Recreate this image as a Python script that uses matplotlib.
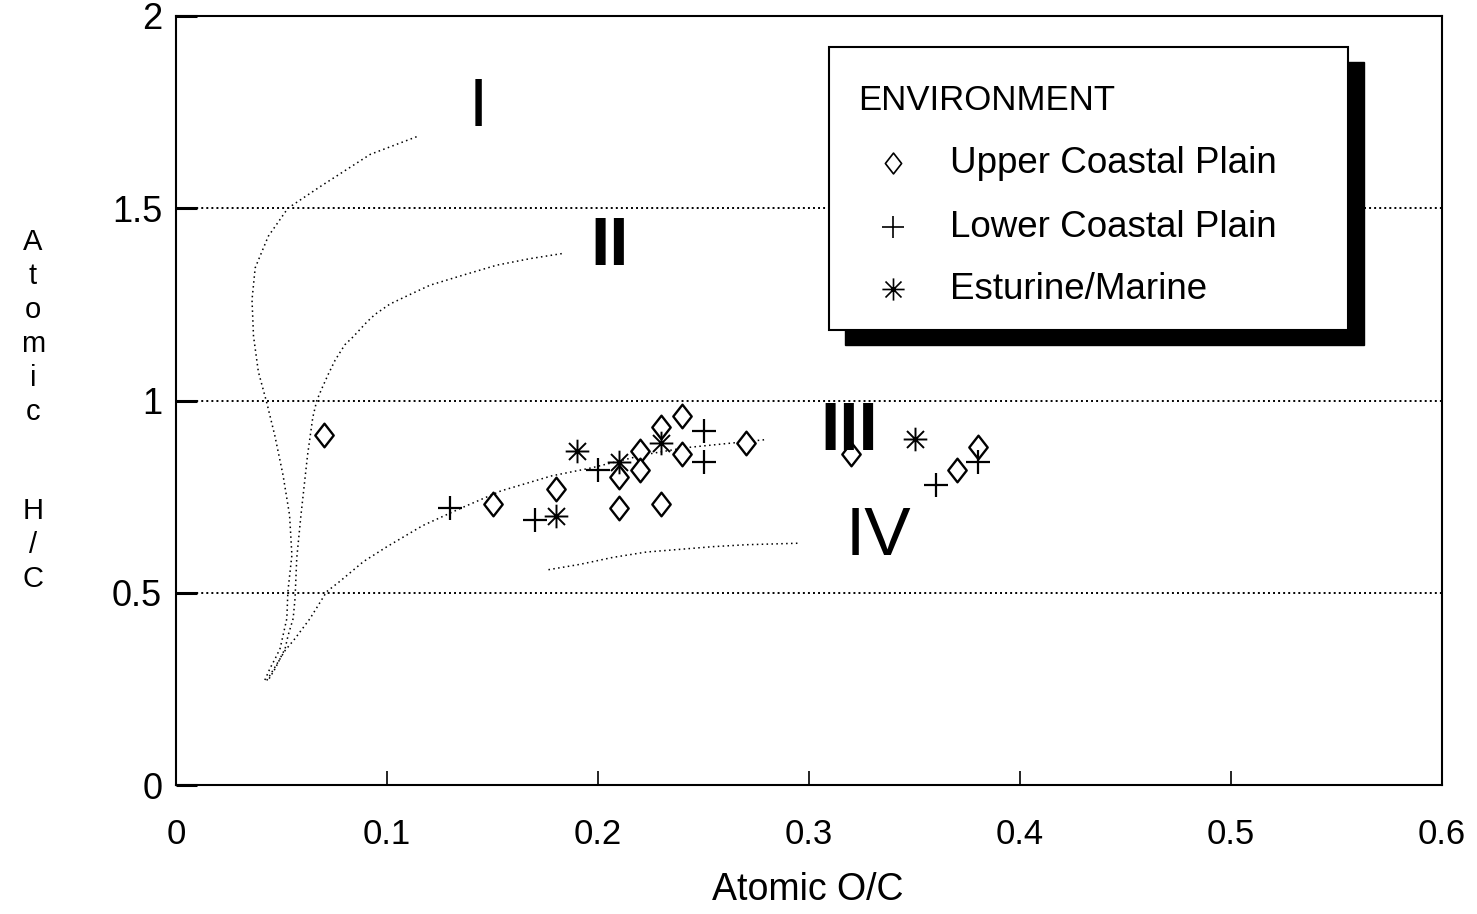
import matplotlib
matplotlib.use("Agg")
import matplotlib.pyplot as plt
from matplotlib.path import Path
from matplotlib.patches import Rectangle

plt.rcParams['font.family'] = ['Liberation Sans', 'DejaVu Sans']

# ---------------- data ----------------
upper_x = [0.07, 0.15, 0.18, 0.21, 0.21, 0.22, 0.22, 0.23, 0.23, 0.24, 0.24, 0.27, 0.32, 0.37, 0.38]
upper_y = [0.91, 0.73, 0.77, 0.80, 0.72, 0.87, 0.82, 0.93, 0.73, 0.96, 0.86, 0.89, 0.86, 0.82, 0.88]

lower_x = [0.13, 0.17, 0.20, 0.25, 0.25, 0.36, 0.38]
lower_y = [0.72, 0.69, 0.82, 0.92, 0.84, 0.78, 0.84]

estu_x = [0.18, 0.19, 0.21, 0.23, 0.35]
estu_y = [0.70, 0.87, 0.84, 0.89, 0.90]

type1_x = [0.114, 0.092, 0.0685, 0.053, 0.0437, 0.0375, 0.036, 0.0367, 0.039, 0.043, 0.0468,
           0.0507, 0.0538, 0.0549, 0.053, 0.0525, 0.0507, 0.0493, 0.047, 0.0445, 0.042]
type1_y = [1.686, 1.64, 1.557, 1.50, 1.427, 1.345, 1.262, 1.168, 1.075, 0.994, 0.909,
           0.806, 0.702, 0.598, 0.503, 0.433, 0.389, 0.355, 0.329, 0.303, 0.272]

type2_x = [0.1828, 0.1678, 0.152, 0.136, 0.1204, 0.111, 0.1014, 0.0943, 0.0904, 0.084, 0.080,
           0.0754, 0.0722, 0.069, 0.0667, 0.0648, 0.0623, 0.0592, 0.0572, 0.0564, 0.0555,
           0.0531, 0.0517, 0.0493, 0.047, 0.0436]
type2_y = [1.382, 1.369, 1.352, 1.326, 1.30, 1.276, 1.251, 1.224, 1.204, 1.166, 1.145,
           1.105, 1.069, 1.03, 1.0, 0.956, 0.857, 0.702, 0.59, 0.486, 0.433,
           0.389, 0.355, 0.329, 0.303, 0.272]

type3_x = [0.043, 0.0517, 0.0564, 0.0635, 0.0714, 0.0777, 0.0888, 0.100, 0.117, 0.135,
           0.154, 0.178, 0.197, 0.222, 0.241, 0.279]
type3_y = [0.272, 0.35, 0.381, 0.433, 0.503, 0.53, 0.581, 0.62, 0.675, 0.72,
           0.765, 0.804, 0.825, 0.859, 0.877, 0.898]

type4_x = [0.1765, 0.1915, 0.207, 0.223, 0.2389, 0.2546, 0.2705, 0.2957]
type4_y = [0.56, 0.574, 0.592, 0.606, 0.613, 0.62, 0.625, 0.629]

xticks = [0, 0.1, 0.2, 0.3, 0.4, 0.5, 0.6]
xtick_labels = ["0", "0.1", "0.2", "0.3", "0.4", "0.5", "0.6"]
yticks = [0, 0.5, 1, 1.5, 2]
ytick_labels = ["0", "0.5", "1", "1.5", "2"]
grid_levels = [0.5, 1.0, 1.5]

legend_title = "ENVIRONMENT"
legend_labels = ["Upper Coastal Plain", "Lower Coastal Plain", "Esturine/Marine"]

# ---------------- markers ----------------
diamond = Path([(0, 1), (0.78, 0), (0, -1), (-0.78, 0), (0, 1)],
               [Path.MOVETO, Path.LINETO, Path.LINETO, Path.LINETO, Path.CLOSEPOLY])
d = 0.72
ast_verts = [(0, -1), (0, 1), (-1, 0), (1, 0), (-d, -d), (d, d), (-d, d), (d, -d)]
ast_codes = [Path.MOVETO, Path.LINETO] * 4
asterisk = Path(ast_verts, ast_codes)

# ---------------- figure ----------------
fig = plt.figure(figsize=(14.77, 9.14), dpi=100)
ax = fig.add_axes([0.1192, 0.1411, 0.8571, 0.8414])
ax.set_xlim(0, 0.6)
ax.set_ylim(0, 2)

for lv in grid_levels:
    ax.axhline(lv, color='black', lw=1.4, ls=(0, (1, 1.6)), zorder=1)

curve_style = dict(color='black', lw=1.1, ls=(0, (1, 2.2)), zorder=2)
ax.plot(type1_x, type1_y, **curve_style)
ax.plot(type2_x, type2_y, **curve_style)
ax.plot(type3_x, type3_y, **curve_style)
ax.plot(type4_x, type4_y, **curve_style)

ax.plot(upper_x, upper_y, ls='none', marker=diamond, ms=17, mfc='white',
        mec='black', mew=1.7, zorder=3)
ax.plot(lower_x, lower_y, ls='none', marker='+', ms=17, mec='black', mew=1.6, zorder=4)
ax.plot(estu_x, estu_y, ls='none', marker=asterisk, ms=17, mec='black', mew=1.4,
        mfc='none', zorder=4)

# roman numeral labels
ax.text(0.143, 1.713, "I", fontsize=50, ha='center', va='baseline')
ax.text(0.2057, 1.352, "II", fontsize=50, ha='center', va='baseline', fontweight='bold')
ax.text(0.319, 0.872, "III", fontsize=50, ha='center', va='baseline', fontweight='bold')
ax.text(0.3327, 0.598, "IV", fontsize=50, ha='center', va='baseline')

# axes styling
ax.set_xticks(xticks)
ax.set_xticklabels(xtick_labels)
ax.set_yticks(yticks)
ax.set_yticklabels(ytick_labels)
ax.tick_params(axis='x', direction='in', length=10, width=1.2, pad=24, labelsize=25)
ax.tick_params(axis='y', direction='in', length=15, width=2.2, pad=10, labelsize=26)
for sp in ax.spines.values():
    sp.set_linewidth(1.5)

# x label
fig.text(0.547, 0.0263, "Atomic O/C", fontsize=27, ha='center', va='center')

# y label: stacked characters
ychars = ["A", "t", "o", "m", "i", "c", "H", "/", "C"]
ypix = [242, 276, 310, 344, 378, 412, 511, 545, 579]
for ch, py in zip(ychars, ypix):
    fig.text(33 / 1477, 1 - py / 914, ch, fontsize=21, ha='center', va='center')

# ---------------- legend box ----------------
tr = ax.transAxes
bx0, bx1, by0, by1 = 0.5158, 0.9257, 0.5917, 0.9597
sx, sy = 0.0125, -0.0200
ax.add_patch(Rectangle((bx0 + sx, by0 + sy), bx1 - bx0, by1 - by0, transform=tr,
                       facecolor='black', edgecolor='black', zorder=5))
ax.add_patch(Rectangle((bx0, by0), bx1 - bx0, by1 - by0, transform=tr,
                       facecolor='white', edgecolor='black', lw=1.5, zorder=6))
ax.text(0.5387, 0.8895, legend_title, transform=tr, fontsize=25, ha='left',
        va='center', zorder=7)
ly = [0.8088, 0.7256, 0.645]
mk = [diamond, '+', asterisk]
ms_l = [15, 16, 16]
for yy, lab, m, msz in zip(ly, legend_labels, mk, ms_l):
    ax.plot([0.5664], [yy], transform=tr, ls='none', marker=m, ms=msz, mfc='none',
            mec='black', mew=1.2, zorder=7, clip_on=False)
    ax.text(0.6114, yy, lab, transform=tr, fontsize=26.5, ha='left', va='center', zorder=7)

fig.savefig("out.png", dpi=100)
